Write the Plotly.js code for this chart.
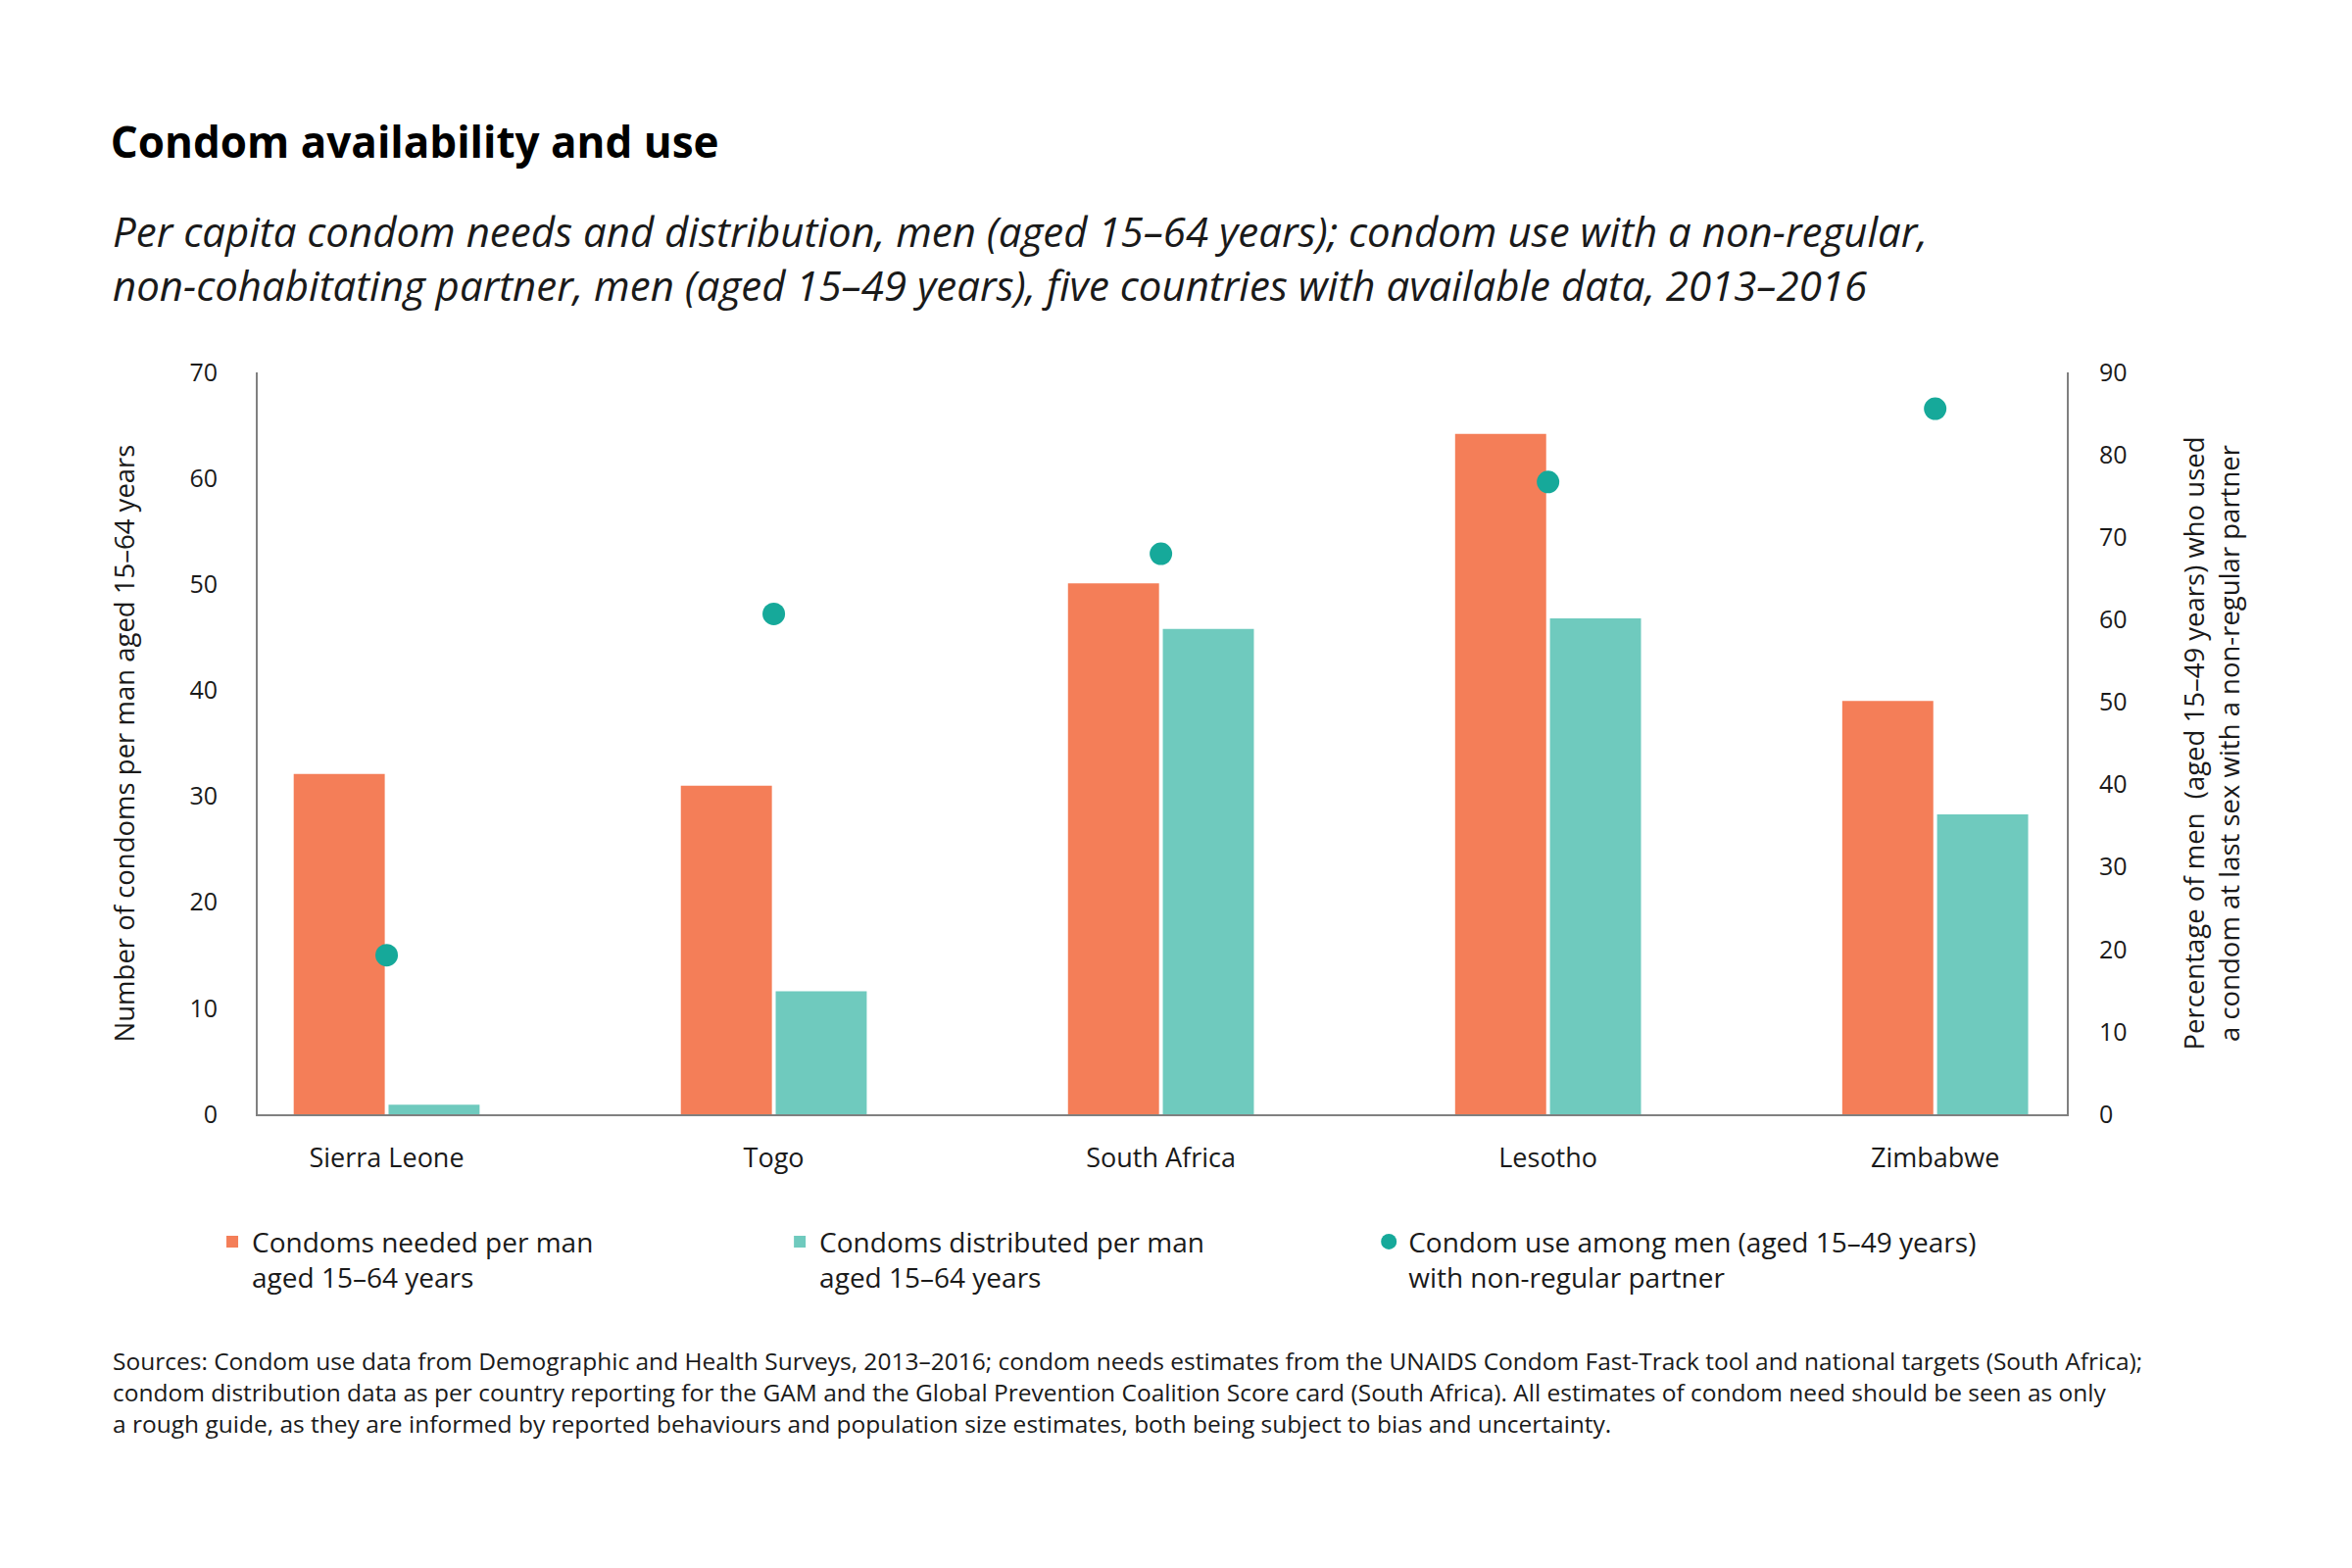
<!DOCTYPE html>
<html>
<head>
<meta charset="utf-8">
<script src="https://cdn.plot.ly/plotly-3.0.1.min.js"></script>
<style>
  html, body { margin: 0; padding: 0; background: #fff; }
  #chart { width: 2400px; height: 1600px; }
</style>
</head>
<body>
<div id="chart"></div>
<script>
// Countries and values
const paises = ['Sierra Leone', 'Togo', 'South Africa', 'Lesotho', 'Zimbabwe'];
const preservativosNecessarios = [32.1, 31.0, 50.1, 64.2, 39.0];
const preservativosDistribuidos = [0.9, 11.6, 45.8, 46.8, 28.3];
const usoPreservativo = [19.3, 60.7, 68.0, 76.7, 85.6];
const ticksEsquerda = [0, 10, 20, 30, 40, 50, 60, 70];
const ticksDireita = [0, 10, 20, 30, 40, 50, 60, 70, 80, 90];

const fonte = '"Open Sans", Lato, sans-serif';
const corLaranja = '#F47E58';
const corTurquesa = '#6FCABE';
const corPonto = '#16A99A';
const corEixo = '#808080';

const subtitulo = 'Per capita condom needs and distribution, men (aged 15–64 years); condom use with a non-regular,<br>non-cohabitating partner, men (aged 15–49 years), five countries with available data, 2013–2016';
const fontes = 'Sources: Condom use data from Demographic and Health Surveys, 2013–2016; condom needs estimates from the UNAIDS Condom Fast-Track tool and national targets (South Africa);<br>condom distribution data as per country reporting for the GAM and the Global Prevention Coalition Score card (South Africa). All estimates of condom need should be seen as only<br>a rough guide, as they are informed by reported behaviours and population size estimates, both being subject to bias and uncertainty.';

const data = [
    {
        x: paises,
        y: preservativosNecessarios,
        type: 'bar',
        name: 'Condoms needed per man<br>aged 15–64 years',
        marker: { color: corLaranja },
        legend: 'legend',
        hoverinfo: 'x+y'
    },
    {
        x: paises,
        y: preservativosDistribuidos,
        type: 'bar',
        name: 'Condoms distributed per man<br>aged 15–64 years',
        marker: { color: corTurquesa },
        legend: 'legend2',
        hoverinfo: 'x+y'
    },
    {
        x: paises,
        y: usoPreservativo,
        type: 'scatter',
        mode: 'markers',
        yaxis: 'y2',
        name: 'Condom use among men (aged 15–49 years)<br>with non-regular partner',
        marker: { color: corPonto, size: 23 },
        legend: 'legend3',
        hoverinfo: 'x+y'
    }
];

// one legend per series, so each entry sits where it does in the reference
function legenda(x) {
    return {
        x: x, y: -0.139,
        xanchor: 'left', yanchor: 'top',
        valign: 'top',
        bgcolor: 'rgba(0,0,0,0)',
        font: { family: fonte, size: 28, color: '#1a1a1a' }
    };
}

const layout = {
    width: 2400,
    height: 1600,
    margin: { l: 263, r: 291, t: 380, b: 463 },
    paper_bgcolor: '#fff',
    plot_bgcolor: '#fff',
    font: { family: fonte, color: '#1a1a1a' },
    title: {
        text: '<b>Condom availability and use</b>',
        xref: 'container', yref: 'container',
        x: 0.047, y: 0.909,
        xanchor: 'left', yanchor: 'middle',
        font: { family: fonte, size: 44, color: '#000' }
    },
    barmode: 'group',
    bargap: 0.51,
    bargroupgap: 0.04,
    showlegend: true,
    legend: legenda(-0.0249),
    legend2: legenda(0.2888),
    legend3: legenda(0.6144),
    xaxis: {
        range: [-0.333, 4.34],
        showline: true,
        linecolor: corEixo,
        linewidth: 2,
        ticks: '',
        showgrid: false,
        zeroline: false,
        ticklabelstandoff: 20,
        tickfont: { family: fonte, size: 27, color: '#1a1a1a' },
        fixedrange: true
    },
    yaxis: {
        range: [0, 70],
        tickvals: ticksEsquerda,
        showline: true,
        linecolor: corEixo,
        linewidth: 2,
        ticks: '',
        showgrid: false,
        zeroline: false,
        ticklabelstandoff: 34,
        tickfont: { family: fonte, size: 25, color: '#1a1a1a' },
        title: {
            text: 'Number of condoms per man aged 15–64 years',
            standoff: 48,
            font: { family: fonte, size: 27.5, color: '#1a1a1a' }
        }
    },
    yaxis2: {
        range: [0, 90],
        tickvals: ticksDireita,
        overlaying: 'y',
        side: 'right',
        showline: true,
        linecolor: corEixo,
        linewidth: 2,
        ticks: '',
        showgrid: false,
        zeroline: false,
        ticklabelstandoff: 26,
        tickfont: { family: fonte, size: 25, color: '#1a1a1a' },
        title: {
            text: 'Percentage of men  (aged 15–49 years) who used<br>a condom at last sex with a non-regular partner',
            standoff: 60,
            font: { family: fonte, size: 27.5, color: '#1a1a1a' }
        }
    },
    annotations: [
        {
            text: '<i>' + subtitulo + '</i>',
            xref: 'paper', yref: 'paper',
            x: -0.0813, y: 1.155,
            xanchor: 'left', yanchor: 'middle',
            align: 'left',
            showarrow: false,
            font: { family: fonte, size: 42, color: '#1a1a1a' }
        },
        {
            text: fontes,
            xref: 'paper', yref: 'paper',
            x: -0.0813, y: -0.374,
            xanchor: 'left', yanchor: 'middle',
            align: 'left',
            showarrow: false,
            font: { family: fonte, size: 24.5, color: '#1a1a1a' }
        }
    ]
};

Plotly.newPlot('chart', data, layout, { displayModeBar: false, responsive: false });
</script>
</body>
</html>
